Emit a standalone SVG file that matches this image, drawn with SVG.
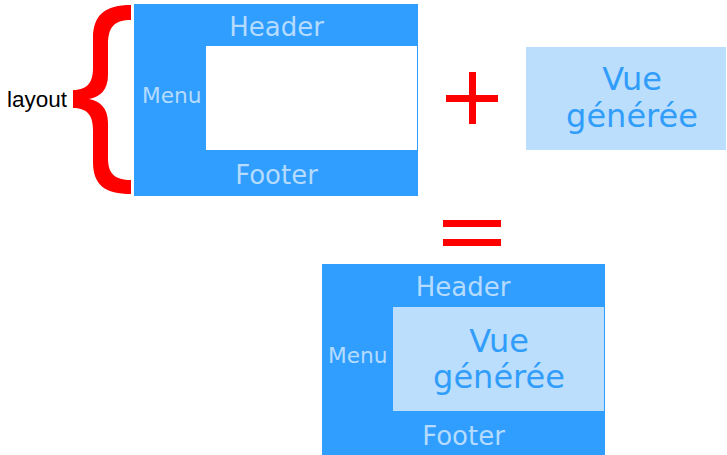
<svg xmlns="http://www.w3.org/2000/svg" width="727" height="455" viewBox="0 0 727 455">
<style>
.dark{fill:#2f9eff}
.light{fill:#bbdefd}
.lt{fill:#b5dbff;font-family:"DejaVu Sans",sans-serif}
.vt{fill:#319dfb;font-family:"DejaVu Sans",sans-serif;font-size:32px;text-anchor:middle}
.red{fill:#ff0000}
</style>
<rect width="727" height="455" fill="#ffffff"/>
<g id="layout-label">
<text x="7" y="107" font-family="Liberation Sans, Arial, sans-serif" font-size="22.5" fill="#000">layout</text>
</g>
<g id="brace">
<path class="red" d="M131,5 L131,20 C115,20 108,26 108,45 L108,75 C108,90 100,97 89,99 C100,101 108,108 108,123 L108,158 C108,174 115,180 131,180 L131,194 C105,194 93,185 93,162 L93,130 C93,114 86,108 73,108 L73,90 C86,90 93,84 93,68 L93,38 C93,15 105,5 131,5 Z"/>
</g>
<g id="layout-box">
<rect class="dark" x="134" y="4" width="284" height="192"/>
<rect x="206" y="46" width="211" height="104" fill="#ffffff"/>
<text class="lt" x="276.5" y="36" font-size="26" text-anchor="middle">Header</text>
<text class="lt" x="142" y="103" font-size="21.7">Menu</text>
<text class="lt" x="276.5" y="184" font-size="26" text-anchor="middle">Footer</text>
</g>
<g id="plus">
<rect class="red" x="446" y="95" width="52" height="7"/>
<rect class="red" x="469" y="72" width="7" height="52"/>
</g>
<g id="vue-box">
<rect class="light" x="526" y="47" width="200" height="103"/>
<text class="vt" x="632" y="90">Vue</text>
<text class="vt" x="632" y="127">générée</text>
</g>
<g id="equals">
<rect class="red" x="443" y="220" width="58" height="7"/>
<rect class="red" x="443" y="239" width="58" height="7"/>
</g>
<g id="result-box">
<rect class="dark" x="322" y="264" width="283" height="191"/>
<rect class="light" x="393" y="307" width="211" height="104"/>
<text class="lt" x="463" y="296" font-size="26" text-anchor="middle">Header</text>
<text class="lt" x="328" y="363" font-size="21.7">Menu</text>
<text class="vt" x="499" y="352">Vue</text>
<text class="vt" x="499" y="388">générée</text>
<text class="lt" x="463.5" y="445" font-size="26" text-anchor="middle">Footer</text>
</g>
</svg>
